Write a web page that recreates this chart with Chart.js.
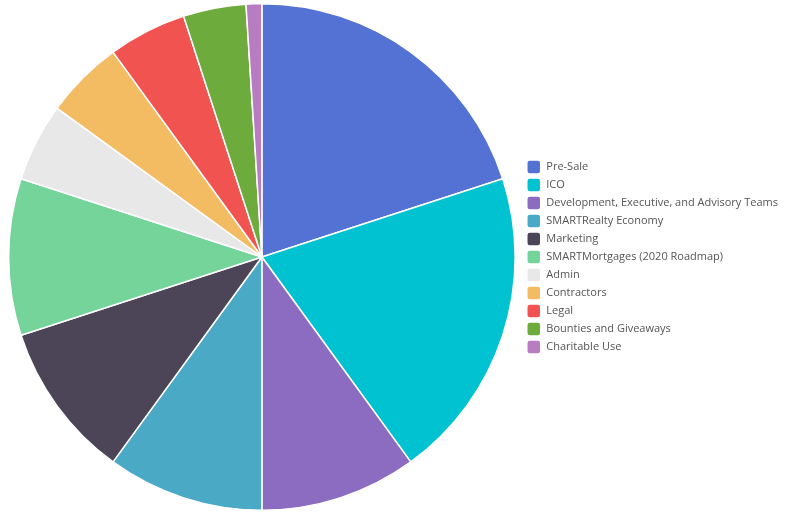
<!DOCTYPE html>
<html>
<head>
<meta charset="utf-8">
<script src="https://cdn.jsdelivr.net/npm/chart.js@4/dist/chart.umd.min.js"></script>
<style>
  html, body { margin: 0; padding: 0; background: #fff; }
  #wrap { width: 788px; height: 515px; position: relative; }
</style>
</head>
<body>
<div id="wrap"><canvas id="chart"></canvas></div>
<script>
const labels = [
    'Pre-Sale',
    'ICO',
    'Development, Executive, and Advisory Teams',
    'SMARTRealty Economy',
    'Marketing',
    'SMARTMortgages (2020 Roadmap)',
    'Admin',
    'Contractors',
    'Legal',
    'Bounties and Giveaways',
    'Charitable Use',
];
const shares = [20, 20, 10, 10, 10, 10, 5, 5, 5, 4, 1];
const colors = [
    '#5472d3',
    '#00c2d1',
    '#8c6cc1',
    '#4aaac6',
    '#4b4557',
    '#74d49a',
    '#e8e8e8',
    '#f3bb62',
    '#f15350',
    '#6cab3c',
    '#b87cc0',
];

Chart.defaults.font.family = '"Open Sans", sans-serif';
Chart.defaults.color = '#555';

const config = {
    type: 'pie',
    data: {
        labels: labels,
        datasets: [{
            data: shares,
            backgroundColor: colors,
            borderColor: '#fff',
            borderWidth: 1.5,
        }]
    },
    options: {
        responsive: true,
        maintainAspectRatio: false,
        animation: false,
        layout: { padding: { top: 3, bottom: 4, left: 1, right: 0 } },
        plugins: {
            tooltip: { enabled: false },
            legend: {
                position: 'right',
                labels: {
                    boxWidth: 14,
                    boxHeight: 14,
                    padding: 4,
                    useBorderRadius: true,
                    borderRadius: 3,
                    font: { size: 11 },
                    color: '#555',
                }
            }
        }
    }
};

new Chart(document.getElementById('chart'), config);
</script>
</body>
</html>
